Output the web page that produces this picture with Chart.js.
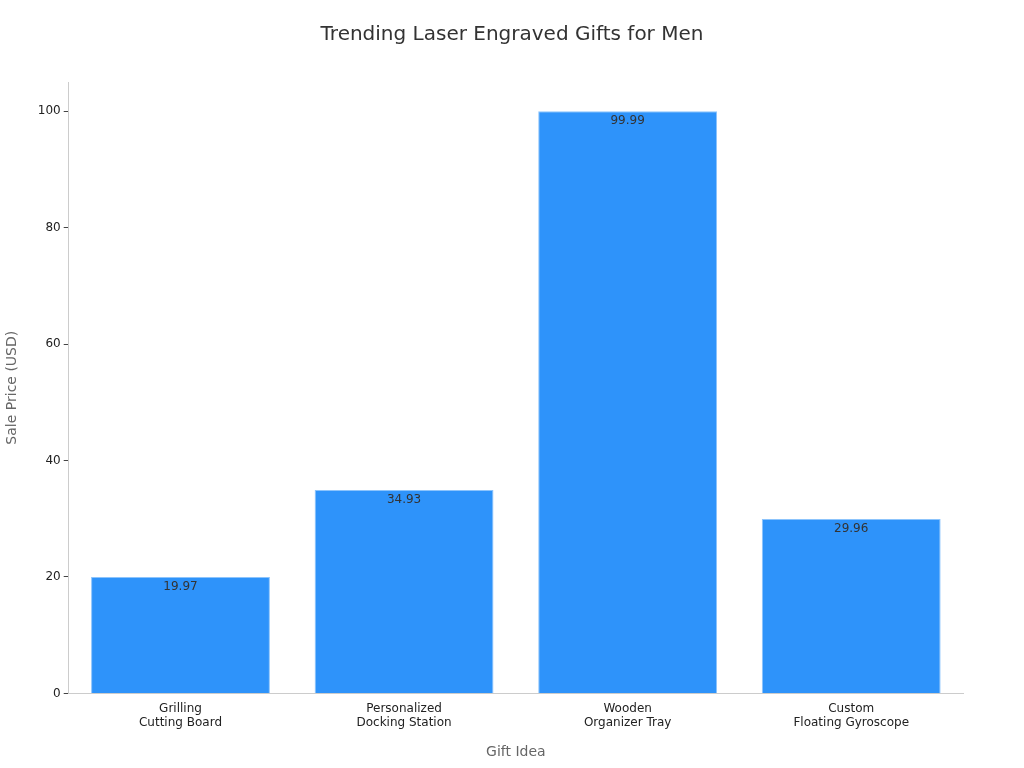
<!DOCTYPE html>
<html>
<head>
<meta charset="utf-8">
<script src="https://cdn.jsdelivr.net/npm/chart.js@4"></script>
<style>
  html, body { margin: 0; padding: 0; background: #fff; }
  #wrap { width: 1024px; height: 768px; }
</style>
</head>
<body>
<div id="wrap"><canvas id="chart" width="1024" height="768"></canvas></div>
<script>
const categories = [
  ["Grilling", "Cutting Board"],
  ["Personalized", "Docking Station"],
  ["Wooden", "Organizer Tray"],
  ["Custom", "Floating Gyroscope"]
];
const prices = [19.97, 34.93, 99.99, 29.96];
const yTicks = [0, 20, 40, 60, 80, 100];

Chart.defaults.font.family = "DejaVu Sans";

// value labels just under each bar top
const valueLabels = {
  id: "valueLabels",
  afterDatasetsDraw(chart) {
    const ctx = chart.ctx;
    const meta = chart.getDatasetMeta(0);
    ctx.save();
    ctx.font = "12px DejaVu Sans";
    ctx.fillStyle = "#333";
    ctx.textAlign = "center";
    ctx.textBaseline = "top";
    meta.data.forEach((bar, i) => {
      ctx.fillText(prices[i].toFixed(2), bar.x, bar.y + 4);
    });
    ctx.restore();
  }
};

new Chart(document.getElementById("chart"), {
  type: "bar",
  data: {
    labels: categories,
    datasets: [{
      label: "Sale Price (USD)",
      data: prices,
      backgroundColor: "#2E93FA",
      borderColor: "#8CC4FC",
      borderWidth: 1,
      barPercentage: 0.8,
      categoryPercentage: 1
    }]
  },
  options: {
    responsive: false,
    animation: false,
    layout: { padding: { top: 10, right: 0, left: 0, bottom: 3 } },
    plugins: {
      legend: { display: false },
      tooltip: { enabled: false },
      title: {
        display: true,
        text: "Trending Laser Engraved Gifts for Men",
        color: "#333",
        font: { size: 20, weight: "normal" },
        padding: { top: 13, bottom: 35 }
      }
    },
    scales: {
      x: {
        grid: { display: false, drawTicks: false },
        border: { color: "#ccc" },
        ticks: { color: "#222", font: { size: 12 }, padding: 8 },
        title: { display: true, text: "Gift Idea", color: "#666", font: { size: 14 }, padding: { top: 6 } }
      },
      y: {
        min: 0,
        max: 105,
        afterBuildTicks: axis => { axis.ticks = yTicks.map(v => ({ value: v })); },
        grid: { display: true, drawOnChartArea: false, drawTicks: true, tickLength: 5, tickColor: "#444" },
        border: { color: "#ccc" },
        ticks: { color: "#222", font: { size: 12 }, padding: 3 },
        title: { display: true, text: "Sale Price (USD)", color: "#666", font: { size: 14 }, padding: { bottom: 14 } }
      },
      // empty right axis that only reserves the right margin
      yRight: {
        position: "right",
        display: true,
        grid: { display: false },
        border: { display: false },
        ticks: { display: false },
        afterFit: axis => { axis.width = 61; }
      }
    }
  },
  plugins: [valueLabels]
});
</script>
</body>
</html>
